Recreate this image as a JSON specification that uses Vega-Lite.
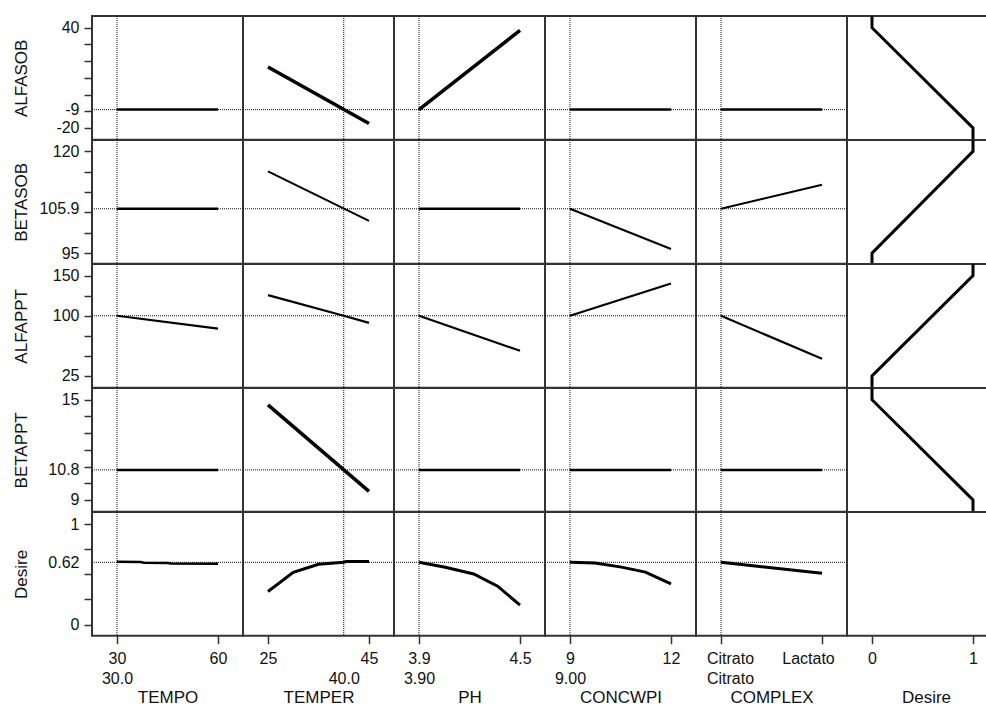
{
"$schema": "https://vega.github.io/schema/vega-lite/v6.json",
"background": "white",
"padding": {"left": 11, "top": 10, "right": 0, "bottom": 0},
"columns": 6,
"bounds": "flush",
"align": "each",
"spacing": 0,
"datasets": {
 "current": [
  {"variable": "TEMPO", "value": 30},
  {"variable": "TEMPER", "value": 40},
  {"variable": "PH", "value": 3.9},
  {"variable": "CONCWPI", "value": 9},
  {"variable": "COMPLEX", "level": "Citrato"},
  {"variable": "ALFASOB", "value": -9},
  {"variable": "BETASOB", "value": 105.9},
  {"variable": "ALFAPPT", "value": 100},
  {"variable": "BETAPPT", "value": 10.8},
  {"variable": "Desire", "value": 0.62}
 ],
 "profiles": [
  {"response": "ALFASOB", "factor": "TEMPO", "x": 30, "y": -9},
  {"response": "ALFASOB", "factor": "TEMPO", "x": 60, "y": -9},
  {"response": "ALFASOB", "factor": "TEMPER", "x": 25, "y": 16.5},
  {"response": "ALFASOB", "factor": "TEMPER", "x": 45, "y": -17.3},
  {"response": "ALFASOB", "factor": "PH", "x": 3.9, "y": -9},
  {"response": "ALFASOB", "factor": "PH", "x": 4.5, "y": 38.4},
  {"response": "ALFASOB", "factor": "CONCWPI", "x": 9, "y": -9},
  {"response": "ALFASOB", "factor": "CONCWPI", "x": 12, "y": -9},
  {"response": "ALFASOB", "factor": "COMPLEX", "level": "Citrato", "y": -9},
  {"response": "ALFASOB", "factor": "COMPLEX", "level": "Lactato", "y": -9},
  {"response": "BETASOB", "factor": "TEMPO", "x": 30, "y": 105.9},
  {"response": "BETASOB", "factor": "TEMPO", "x": 60, "y": 105.9},
  {"response": "BETASOB", "factor": "TEMPER", "x": 25, "y": 115.1},
  {"response": "BETASOB", "factor": "TEMPER", "x": 45, "y": 102.9},
  {"response": "BETASOB", "factor": "PH", "x": 3.9, "y": 105.9},
  {"response": "BETASOB", "factor": "PH", "x": 4.5, "y": 105.9},
  {"response": "BETASOB", "factor": "CONCWPI", "x": 9, "y": 105.9},
  {"response": "BETASOB", "factor": "CONCWPI", "x": 12, "y": 96.0},
  {"response": "BETASOB", "factor": "COMPLEX", "level": "Citrato", "y": 105.9},
  {"response": "BETASOB", "factor": "COMPLEX", "level": "Lactato", "y": 111.8},
  {"response": "ALFAPPT", "factor": "TEMPO", "x": 30, "y": 100},
  {"response": "ALFAPPT", "factor": "TEMPO", "x": 60, "y": 84.1},
  {"response": "ALFAPPT", "factor": "TEMPER", "x": 25, "y": 125.8},
  {"response": "ALFAPPT", "factor": "TEMPER", "x": 40, "y": 100},
  {"response": "ALFAPPT", "factor": "TEMPER", "x": 45, "y": 91.2},
  {"response": "ALFAPPT", "factor": "PH", "x": 3.9, "y": 100},
  {"response": "ALFAPPT", "factor": "PH", "x": 4.5, "y": 56.4},
  {"response": "ALFAPPT", "factor": "CONCWPI", "x": 9, "y": 100},
  {"response": "ALFAPPT", "factor": "CONCWPI", "x": 12, "y": 140.2},
  {"response": "ALFAPPT", "factor": "COMPLEX", "level": "Citrato", "y": 100},
  {"response": "ALFAPPT", "factor": "COMPLEX", "level": "Lactato", "y": 46.4},
  {"response": "BETAPPT", "factor": "TEMPO", "x": 30, "y": 10.8},
  {"response": "BETAPPT", "factor": "TEMPO", "x": 60, "y": 10.8},
  {"response": "BETAPPT", "factor": "TEMPER", "x": 25, "y": 14.69},
  {"response": "BETAPPT", "factor": "TEMPER", "x": 45, "y": 9.52},
  {"response": "BETAPPT", "factor": "PH", "x": 3.9, "y": 10.8},
  {"response": "BETAPPT", "factor": "PH", "x": 4.5, "y": 10.8},
  {"response": "BETAPPT", "factor": "CONCWPI", "x": 9, "y": 10.8},
  {"response": "BETAPPT", "factor": "CONCWPI", "x": 12, "y": 10.8},
  {"response": "BETAPPT", "factor": "COMPLEX", "level": "Citrato", "y": 10.8},
  {"response": "BETAPPT", "factor": "COMPLEX", "level": "Lactato", "y": 10.8},
  {"response": "Desire", "factor": "TEMPO", "x": 30, "y": 0.625},
  {"response": "Desire", "factor": "TEMPO", "x": 37, "y": 0.622},
  {"response": "Desire", "factor": "TEMPO", "x": 38, "y": 0.615},
  {"response": "Desire", "factor": "TEMPO", "x": 45, "y": 0.613},
  {"response": "Desire", "factor": "TEMPO", "x": 46, "y": 0.607},
  {"response": "Desire", "factor": "TEMPO", "x": 60, "y": 0.606},
  {"response": "Desire", "factor": "TEMPER", "x": 25, "y": 0.33},
  {"response": "Desire", "factor": "TEMPER", "x": 30, "y": 0.52},
  {"response": "Desire", "factor": "TEMPER", "x": 35, "y": 0.6},
  {"response": "Desire", "factor": "TEMPER", "x": 40, "y": 0.62},
  {"response": "Desire", "factor": "TEMPER", "x": 40.5, "y": 0.627},
  {"response": "Desire", "factor": "TEMPER", "x": 45, "y": 0.627},
  {"response": "Desire", "factor": "PH", "x": 3.9, "y": 0.62},
  {"response": "Desire", "factor": "PH", "x": 4.056, "y": 0.571},
  {"response": "Desire", "factor": "PH", "x": 4.225, "y": 0.504},
  {"response": "Desire", "factor": "PH", "x": 4.367, "y": 0.382},
  {"response": "Desire", "factor": "PH", "x": 4.5, "y": 0.195},
  {"response": "Desire", "factor": "CONCWPI", "x": 9, "y": 0.62},
  {"response": "Desire", "factor": "CONCWPI", "x": 9.74, "y": 0.612},
  {"response": "Desire", "factor": "CONCWPI", "x": 10.53, "y": 0.572},
  {"response": "Desire", "factor": "CONCWPI", "x": 11.24, "y": 0.522},
  {"response": "Desire", "factor": "CONCWPI", "x": 12, "y": 0.405},
  {"response": "Desire", "factor": "COMPLEX", "level": "Citrato", "y": 0.62},
  {"response": "Desire", "factor": "COMPLEX", "level": "Lactato", "y": 0.51}
 ],
 "desirability": [
  {"response": "ALFASOB", "seq": 1, "d": 0, "y": 47},
  {"response": "ALFASOB", "seq": 2, "d": 0, "y": 40},
  {"response": "ALFASOB", "seq": 3, "d": 1, "y": -20},
  {"response": "ALFASOB", "seq": 4, "d": 1, "y": -27},
  {"response": "BETASOB", "seq": 1, "d": 1, "y": 122.8},
  {"response": "BETASOB", "seq": 2, "d": 1, "y": 120},
  {"response": "BETASOB", "seq": 3, "d": 0, "y": 95},
  {"response": "BETASOB", "seq": 4, "d": 0, "y": 92.4},
  {"response": "ALFAPPT", "seq": 1, "d": 1, "y": 164.5},
  {"response": "ALFAPPT", "seq": 2, "d": 1, "y": 150},
  {"response": "ALFAPPT", "seq": 3, "d": 0, "y": 25},
  {"response": "ALFAPPT", "seq": 4, "d": 0, "y": 10.4},
  {"response": "BETAPPT", "seq": 1, "d": 0, "y": 15.7},
  {"response": "BETAPPT", "seq": 2, "d": 0, "y": 15},
  {"response": "BETAPPT", "seq": 3, "d": 1, "y": 9},
  {"response": "BETAPPT", "seq": 4, "d": 1, "y": 8.3}
 ]
},
"concat": [
  {"width": 151, "height": 123.7, "layer": [
   {"data": {"name": "current"}, "transform": [{"filter": "datum.variable=='ALFASOB'"}], "mark": "rule", "encoding": {"y": {"field": "value", "type": "quantitative", "scale": {"domain": [-27, 47], "nice": false, "zero": false}, "axis": {"title": "ALFASOB", "tickCount": 50, "values": [40, 30, 20, 10, 0, -9, -10, -20], "labelExpr": "datum.value==40?'40':datum.value==-9?'-9':datum.value==-20?'-20':''", "tickOpacity": {"condition": {"test": "datum.value==-9", "value": 0}, "value": 1}}}}},
   {"data": {"name": "current"}, "transform": [{"filter": "datum.variable=='TEMPO'"}], "mark": "rule", "encoding": {"x": {"field": "value", "type": "quantitative", "scale": {"domain": [22.57, 67.43], "nice": false, "zero": false}, "axis": null}}},
   {"data": {"name": "profiles"}, "transform": [{"filter": "datum.response=='ALFASOB'&&datum.factor=='TEMPO'"}], "mark": "line", "encoding": {"x": {"field": "x", "type": "quantitative", "scale": {"domain": [22.57, 67.43], "nice": false, "zero": false}, "axis": null}, "y": {"field": "y", "type": "quantitative", "scale": {"domain": [-27, 47], "nice": false, "zero": false}}}}
  ]},
  {"width": 151, "height": 123.7, "layer": [
   {"data": {"name": "current"}, "transform": [{"filter": "datum.variable=='ALFASOB'"}], "mark": "rule", "encoding": {"y": {"field": "value", "type": "quantitative", "scale": {"domain": [-27, 47], "nice": false, "zero": false}, "axis": null}}},
   {"data": {"name": "current"}, "transform": [{"filter": "datum.variable=='TEMPER'"}], "mark": "rule", "encoding": {"x": {"field": "value", "type": "quantitative", "scale": {"domain": [20.05, 49.95], "nice": false, "zero": false}, "axis": null}}},
   {"data": {"name": "profiles"}, "transform": [{"filter": "datum.response=='ALFASOB'&&datum.factor=='TEMPER'"}], "mark": {"type": "line", "strokeWidth": 3.5}, "encoding": {"x": {"field": "x", "type": "quantitative", "scale": {"domain": [20.05, 49.95], "nice": false, "zero": false}, "axis": null}, "y": {"field": "y", "type": "quantitative", "scale": {"domain": [-27, 47], "nice": false, "zero": false}, "axis": null}}}
  ]},
  {"width": 151, "height": 123.7, "layer": [
   {"data": {"name": "current"}, "transform": [{"filter": "datum.variable=='ALFASOB'"}], "mark": "rule", "encoding": {"y": {"field": "value", "type": "quantitative", "scale": {"domain": [-27, 47], "nice": false, "zero": false}, "axis": null}}},
   {"data": {"name": "current"}, "transform": [{"filter": "datum.variable=='PH'"}], "mark": "rule", "encoding": {"x": {"field": "value", "type": "quantitative", "scale": {"domain": [3.7515, 4.6485], "nice": false, "zero": false}, "axis": null}}},
   {"data": {"name": "profiles"}, "transform": [{"filter": "datum.response=='ALFASOB'&&datum.factor=='PH'"}], "mark": {"type": "line", "strokeWidth": 3.5}, "encoding": {"x": {"field": "x", "type": "quantitative", "scale": {"domain": [3.7515, 4.6485], "nice": false, "zero": false}, "axis": null}, "y": {"field": "y", "type": "quantitative", "scale": {"domain": [-27, 47], "nice": false, "zero": false}, "axis": null}}}
  ]},
  {"width": 151, "height": 123.7, "layer": [
   {"data": {"name": "current"}, "transform": [{"filter": "datum.variable=='ALFASOB'"}], "mark": "rule", "encoding": {"y": {"field": "value", "type": "quantitative", "scale": {"domain": [-27, 47], "nice": false, "zero": false}, "axis": null}}},
   {"data": {"name": "current"}, "transform": [{"filter": "datum.variable=='CONCWPI'"}], "mark": "rule", "encoding": {"x": {"field": "value", "type": "quantitative", "scale": {"domain": [8.2574, 12.7426], "nice": false, "zero": false}, "axis": null}}},
   {"data": {"name": "profiles"}, "transform": [{"filter": "datum.response=='ALFASOB'&&datum.factor=='CONCWPI'"}], "mark": "line", "encoding": {"x": {"field": "x", "type": "quantitative", "scale": {"domain": [8.2574, 12.7426], "nice": false, "zero": false}, "axis": null}, "y": {"field": "y", "type": "quantitative", "scale": {"domain": [-27, 47], "nice": false, "zero": false}, "axis": null}}}
  ]},
  {"width": 151, "height": 123.7, "layer": [
   {"data": {"name": "current"}, "transform": [{"filter": "datum.variable=='ALFASOB'"}], "mark": "rule", "encoding": {"y": {"field": "value", "type": "quantitative", "scale": {"domain": [-27, 47], "nice": false, "zero": false}, "axis": null}}},
   {"data": {"name": "current"}, "transform": [{"filter": "datum.variable=='COMPLEX'"}], "mark": "rule", "encoding": {"x": {"field": "level", "type": "nominal", "scale": {"type": "point", "domain": ["Citrato", "Lactato"], "padding": 0.2475}, "axis": null}}},
   {"data": {"name": "profiles"}, "transform": [{"filter": "datum.response=='ALFASOB'&&datum.factor=='COMPLEX'"}], "mark": "line", "encoding": {"x": {"field": "level", "type": "nominal", "scale": {"type": "point", "domain": ["Citrato", "Lactato"], "padding": 0.2475}, "axis": null}, "y": {"field": "y", "type": "quantitative", "scale": {"domain": [-27, 47], "nice": false, "zero": false}, "axis": null}}}
  ]},
  {"width": 140, "height": 123.7, "view": {"stroke": null}, "layer": [
   {"data": {"values": [{}]}, "mark": {"type": "rule", "color": "#333", "strokeWidth": 2, "strokeDash": [4, 0]}, "encoding": {"y": {"datum": 47, "type": "quantitative", "scale": {"domain": [-27, 47], "nice": false, "zero": false}, "axis": null}}},
   {"data": {"name": "desirability"}, "transform": [{"filter": "datum.response=='ALFASOB'"}], "mark": {"type": "line", "strokeWidth": 3}, "encoding": {"x": {"field": "d", "type": "quantitative", "scale": {"domain": [-0.2475, 1.1386], "nice": false, "zero": false}, "axis": null}, "y": {"field": "y", "type": "quantitative", "scale": {"domain": [-27, 47], "nice": false, "zero": false}, "axis": null}, "order": {"field": "seq"}}}
  ]},
  {"width": 151, "height": 123.7, "layer": [
   {"data": {"name": "current"}, "transform": [{"filter": "datum.variable=='BETASOB'"}], "mark": "rule", "encoding": {"y": {"field": "value", "type": "quantitative", "scale": {"domain": [92.4, 122.8], "nice": false, "zero": false}, "axis": {"title": "BETASOB", "tickCount": 50, "values": [120, 115, 110, 105.9, 105, 100, 95], "labelExpr": "datum.value==120?'120':datum.value==105.9?'105.9':datum.value==95?'95':''", "tickOpacity": {"condition": {"test": "datum.value==105.9", "value": 0}, "value": 1}}}}},
   {"data": {"name": "current"}, "transform": [{"filter": "datum.variable=='TEMPO'"}], "mark": "rule", "encoding": {"x": {"field": "value", "type": "quantitative", "scale": {"domain": [22.57, 67.43], "nice": false, "zero": false}, "axis": null}}},
   {"data": {"name": "profiles"}, "transform": [{"filter": "datum.response=='BETASOB'&&datum.factor=='TEMPO'"}], "mark": "line", "encoding": {"x": {"field": "x", "type": "quantitative", "scale": {"domain": [22.57, 67.43], "nice": false, "zero": false}, "axis": null}, "y": {"field": "y", "type": "quantitative", "scale": {"domain": [92.4, 122.8], "nice": false, "zero": false}}}}
  ]},
  {"width": 151, "height": 123.7, "layer": [
   {"data": {"name": "current"}, "transform": [{"filter": "datum.variable=='BETASOB'"}], "mark": "rule", "encoding": {"y": {"field": "value", "type": "quantitative", "scale": {"domain": [92.4, 122.8], "nice": false, "zero": false}, "axis": null}}},
   {"data": {"name": "current"}, "transform": [{"filter": "datum.variable=='TEMPER'"}], "mark": "rule", "encoding": {"x": {"field": "value", "type": "quantitative", "scale": {"domain": [20.05, 49.95], "nice": false, "zero": false}, "axis": null}}},
   {"data": {"name": "profiles"}, "transform": [{"filter": "datum.response=='BETASOB'&&datum.factor=='TEMPER'"}], "mark": {"type": "line", "strokeWidth": 2}, "encoding": {"x": {"field": "x", "type": "quantitative", "scale": {"domain": [20.05, 49.95], "nice": false, "zero": false}, "axis": null}, "y": {"field": "y", "type": "quantitative", "scale": {"domain": [92.4, 122.8], "nice": false, "zero": false}, "axis": null}}}
  ]},
  {"width": 151, "height": 123.7, "layer": [
   {"data": {"name": "current"}, "transform": [{"filter": "datum.variable=='BETASOB'"}], "mark": "rule", "encoding": {"y": {"field": "value", "type": "quantitative", "scale": {"domain": [92.4, 122.8], "nice": false, "zero": false}, "axis": null}}},
   {"data": {"name": "current"}, "transform": [{"filter": "datum.variable=='PH'"}], "mark": "rule", "encoding": {"x": {"field": "value", "type": "quantitative", "scale": {"domain": [3.7515, 4.6485], "nice": false, "zero": false}, "axis": null}}},
   {"data": {"name": "profiles"}, "transform": [{"filter": "datum.response=='BETASOB'&&datum.factor=='PH'"}], "mark": "line", "encoding": {"x": {"field": "x", "type": "quantitative", "scale": {"domain": [3.7515, 4.6485], "nice": false, "zero": false}, "axis": null}, "y": {"field": "y", "type": "quantitative", "scale": {"domain": [92.4, 122.8], "nice": false, "zero": false}, "axis": null}}}
  ]},
  {"width": 151, "height": 123.7, "layer": [
   {"data": {"name": "current"}, "transform": [{"filter": "datum.variable=='BETASOB'"}], "mark": "rule", "encoding": {"y": {"field": "value", "type": "quantitative", "scale": {"domain": [92.4, 122.8], "nice": false, "zero": false}, "axis": null}}},
   {"data": {"name": "current"}, "transform": [{"filter": "datum.variable=='CONCWPI'"}], "mark": "rule", "encoding": {"x": {"field": "value", "type": "quantitative", "scale": {"domain": [8.2574, 12.7426], "nice": false, "zero": false}, "axis": null}}},
   {"data": {"name": "profiles"}, "transform": [{"filter": "datum.response=='BETASOB'&&datum.factor=='CONCWPI'"}], "mark": {"type": "line", "strokeWidth": 2}, "encoding": {"x": {"field": "x", "type": "quantitative", "scale": {"domain": [8.2574, 12.7426], "nice": false, "zero": false}, "axis": null}, "y": {"field": "y", "type": "quantitative", "scale": {"domain": [92.4, 122.8], "nice": false, "zero": false}, "axis": null}}}
  ]},
  {"width": 151, "height": 123.7, "layer": [
   {"data": {"name": "current"}, "transform": [{"filter": "datum.variable=='BETASOB'"}], "mark": "rule", "encoding": {"y": {"field": "value", "type": "quantitative", "scale": {"domain": [92.4, 122.8], "nice": false, "zero": false}, "axis": null}}},
   {"data": {"name": "current"}, "transform": [{"filter": "datum.variable=='COMPLEX'"}], "mark": "rule", "encoding": {"x": {"field": "level", "type": "nominal", "scale": {"type": "point", "domain": ["Citrato", "Lactato"], "padding": 0.2475}, "axis": null}}},
   {"data": {"name": "profiles"}, "transform": [{"filter": "datum.response=='BETASOB'&&datum.factor=='COMPLEX'"}], "mark": {"type": "line", "strokeWidth": 2}, "encoding": {"x": {"field": "level", "type": "nominal", "scale": {"type": "point", "domain": ["Citrato", "Lactato"], "padding": 0.2475}, "axis": null}, "y": {"field": "y", "type": "quantitative", "scale": {"domain": [92.4, 122.8], "nice": false, "zero": false}, "axis": null}}}
  ]},
  {"width": 140, "height": 123.7, "view": {"stroke": null}, "layer": [
   {"data": {"values": [{}]}, "mark": {"type": "rule", "color": "#333", "strokeWidth": 2, "strokeDash": [4, 0]}, "encoding": {"y": {"datum": 122.8, "type": "quantitative", "scale": {"domain": [92.4, 122.8], "nice": false, "zero": false}, "axis": null}}},
   {"data": {"name": "desirability"}, "transform": [{"filter": "datum.response=='BETASOB'"}], "mark": {"type": "line", "strokeWidth": 3}, "encoding": {"x": {"field": "d", "type": "quantitative", "scale": {"domain": [-0.2475, 1.1386], "nice": false, "zero": false}, "axis": null}, "y": {"field": "y", "type": "quantitative", "scale": {"domain": [92.4, 122.8], "nice": false, "zero": false}, "axis": null}, "order": {"field": "seq"}}}
  ]},
  {"width": 151, "height": 123.7, "layer": [
   {"data": {"name": "current"}, "transform": [{"filter": "datum.variable=='ALFAPPT'"}], "mark": "rule", "encoding": {"y": {"field": "value", "type": "quantitative", "scale": {"domain": [10.4, 164.5], "nice": false, "zero": false}, "axis": {"title": "ALFAPPT", "tickCount": 50, "values": [150, 125, 100, 75, 50, 25], "labelExpr": "datum.value==150?'150':datum.value==100?'100':datum.value==25?'25':''"}}}},
   {"data": {"name": "current"}, "transform": [{"filter": "datum.variable=='TEMPO'"}], "mark": "rule", "encoding": {"x": {"field": "value", "type": "quantitative", "scale": {"domain": [22.57, 67.43], "nice": false, "zero": false}, "axis": null}}},
   {"data": {"name": "profiles"}, "transform": [{"filter": "datum.response=='ALFAPPT'&&datum.factor=='TEMPO'"}], "mark": {"type": "line", "strokeWidth": 2.2}, "encoding": {"x": {"field": "x", "type": "quantitative", "scale": {"domain": [22.57, 67.43], "nice": false, "zero": false}, "axis": null}, "y": {"field": "y", "type": "quantitative", "scale": {"domain": [10.4, 164.5], "nice": false, "zero": false}}}}
  ]},
  {"width": 151, "height": 123.7, "layer": [
   {"data": {"name": "current"}, "transform": [{"filter": "datum.variable=='ALFAPPT'"}], "mark": "rule", "encoding": {"y": {"field": "value", "type": "quantitative", "scale": {"domain": [10.4, 164.5], "nice": false, "zero": false}, "axis": null}}},
   {"data": {"name": "current"}, "transform": [{"filter": "datum.variable=='TEMPER'"}], "mark": "rule", "encoding": {"x": {"field": "value", "type": "quantitative", "scale": {"domain": [20.05, 49.95], "nice": false, "zero": false}, "axis": null}}},
   {"data": {"name": "profiles"}, "transform": [{"filter": "datum.response=='ALFAPPT'&&datum.factor=='TEMPER'"}], "mark": {"type": "line", "strokeWidth": 2.2}, "encoding": {"x": {"field": "x", "type": "quantitative", "scale": {"domain": [20.05, 49.95], "nice": false, "zero": false}, "axis": null}, "y": {"field": "y", "type": "quantitative", "scale": {"domain": [10.4, 164.5], "nice": false, "zero": false}, "axis": null}}}
  ]},
  {"width": 151, "height": 123.7, "layer": [
   {"data": {"name": "current"}, "transform": [{"filter": "datum.variable=='ALFAPPT'"}], "mark": "rule", "encoding": {"y": {"field": "value", "type": "quantitative", "scale": {"domain": [10.4, 164.5], "nice": false, "zero": false}, "axis": null}}},
   {"data": {"name": "current"}, "transform": [{"filter": "datum.variable=='PH'"}], "mark": "rule", "encoding": {"x": {"field": "value", "type": "quantitative", "scale": {"domain": [3.7515, 4.6485], "nice": false, "zero": false}, "axis": null}}},
   {"data": {"name": "profiles"}, "transform": [{"filter": "datum.response=='ALFAPPT'&&datum.factor=='PH'"}], "mark": {"type": "line", "strokeWidth": 2.2}, "encoding": {"x": {"field": "x", "type": "quantitative", "scale": {"domain": [3.7515, 4.6485], "nice": false, "zero": false}, "axis": null}, "y": {"field": "y", "type": "quantitative", "scale": {"domain": [10.4, 164.5], "nice": false, "zero": false}, "axis": null}}}
  ]},
  {"width": 151, "height": 123.7, "layer": [
   {"data": {"name": "current"}, "transform": [{"filter": "datum.variable=='ALFAPPT'"}], "mark": "rule", "encoding": {"y": {"field": "value", "type": "quantitative", "scale": {"domain": [10.4, 164.5], "nice": false, "zero": false}, "axis": null}}},
   {"data": {"name": "current"}, "transform": [{"filter": "datum.variable=='CONCWPI'"}], "mark": "rule", "encoding": {"x": {"field": "value", "type": "quantitative", "scale": {"domain": [8.2574, 12.7426], "nice": false, "zero": false}, "axis": null}}},
   {"data": {"name": "profiles"}, "transform": [{"filter": "datum.response=='ALFAPPT'&&datum.factor=='CONCWPI'"}], "mark": {"type": "line", "strokeWidth": 2.2}, "encoding": {"x": {"field": "x", "type": "quantitative", "scale": {"domain": [8.2574, 12.7426], "nice": false, "zero": false}, "axis": null}, "y": {"field": "y", "type": "quantitative", "scale": {"domain": [10.4, 164.5], "nice": false, "zero": false}, "axis": null}}}
  ]},
  {"width": 151, "height": 123.7, "layer": [
   {"data": {"name": "current"}, "transform": [{"filter": "datum.variable=='ALFAPPT'"}], "mark": "rule", "encoding": {"y": {"field": "value", "type": "quantitative", "scale": {"domain": [10.4, 164.5], "nice": false, "zero": false}, "axis": null}}},
   {"data": {"name": "current"}, "transform": [{"filter": "datum.variable=='COMPLEX'"}], "mark": "rule", "encoding": {"x": {"field": "level", "type": "nominal", "scale": {"type": "point", "domain": ["Citrato", "Lactato"], "padding": 0.2475}, "axis": null}}},
   {"data": {"name": "profiles"}, "transform": [{"filter": "datum.response=='ALFAPPT'&&datum.factor=='COMPLEX'"}], "mark": {"type": "line", "strokeWidth": 2.2}, "encoding": {"x": {"field": "level", "type": "nominal", "scale": {"type": "point", "domain": ["Citrato", "Lactato"], "padding": 0.2475}, "axis": null}, "y": {"field": "y", "type": "quantitative", "scale": {"domain": [10.4, 164.5], "nice": false, "zero": false}, "axis": null}}}
  ]},
  {"width": 140, "height": 123.7, "view": {"stroke": null}, "layer": [
   {"data": {"values": [{}]}, "mark": {"type": "rule", "color": "#333", "strokeWidth": 2, "strokeDash": [4, 0]}, "encoding": {"y": {"datum": 164.5, "type": "quantitative", "scale": {"domain": [10.4, 164.5], "nice": false, "zero": false}, "axis": null}}},
   {"data": {"name": "desirability"}, "transform": [{"filter": "datum.response=='ALFAPPT'"}], "mark": {"type": "line", "strokeWidth": 3}, "encoding": {"x": {"field": "d", "type": "quantitative", "scale": {"domain": [-0.2475, 1.1386], "nice": false, "zero": false}, "axis": null}, "y": {"field": "y", "type": "quantitative", "scale": {"domain": [10.4, 164.5], "nice": false, "zero": false}, "axis": null}, "order": {"field": "seq"}}}
  ]},
  {"width": 151, "height": 123.7, "layer": [
   {"data": {"name": "current"}, "transform": [{"filter": "datum.variable=='BETAPPT'"}], "mark": "rule", "encoding": {"y": {"field": "value", "type": "quantitative", "scale": {"domain": [8.3, 15.7], "nice": false, "zero": false}, "axis": {"title": "BETAPPT", "tickCount": 50, "values": [15, 14, 13, 12, 11, 10.8, 10, 9], "labelExpr": "datum.value==15?'15':datum.value==10.8?'10.8':datum.value==9?'9':''", "tickOpacity": {"condition": {"test": "datum.value==10.8", "value": 0}, "value": 1}}}}},
   {"data": {"name": "current"}, "transform": [{"filter": "datum.variable=='TEMPO'"}], "mark": "rule", "encoding": {"x": {"field": "value", "type": "quantitative", "scale": {"domain": [22.57, 67.43], "nice": false, "zero": false}, "axis": null}}},
   {"data": {"name": "profiles"}, "transform": [{"filter": "datum.response=='BETAPPT'&&datum.factor=='TEMPO'"}], "mark": "line", "encoding": {"x": {"field": "x", "type": "quantitative", "scale": {"domain": [22.57, 67.43], "nice": false, "zero": false}, "axis": null}, "y": {"field": "y", "type": "quantitative", "scale": {"domain": [8.3, 15.7], "nice": false, "zero": false}}}}
  ]},
  {"width": 151, "height": 123.7, "layer": [
   {"data": {"name": "current"}, "transform": [{"filter": "datum.variable=='BETAPPT'"}], "mark": "rule", "encoding": {"y": {"field": "value", "type": "quantitative", "scale": {"domain": [8.3, 15.7], "nice": false, "zero": false}, "axis": null}}},
   {"data": {"name": "current"}, "transform": [{"filter": "datum.variable=='TEMPER'"}], "mark": "rule", "encoding": {"x": {"field": "value", "type": "quantitative", "scale": {"domain": [20.05, 49.95], "nice": false, "zero": false}, "axis": null}}},
   {"data": {"name": "profiles"}, "transform": [{"filter": "datum.response=='BETAPPT'&&datum.factor=='TEMPER'"}], "mark": {"type": "line", "strokeWidth": 3.5}, "encoding": {"x": {"field": "x", "type": "quantitative", "scale": {"domain": [20.05, 49.95], "nice": false, "zero": false}, "axis": null}, "y": {"field": "y", "type": "quantitative", "scale": {"domain": [8.3, 15.7], "nice": false, "zero": false}, "axis": null}}}
  ]},
  {"width": 151, "height": 123.7, "layer": [
   {"data": {"name": "current"}, "transform": [{"filter": "datum.variable=='BETAPPT'"}], "mark": "rule", "encoding": {"y": {"field": "value", "type": "quantitative", "scale": {"domain": [8.3, 15.7], "nice": false, "zero": false}, "axis": null}}},
   {"data": {"name": "current"}, "transform": [{"filter": "datum.variable=='PH'"}], "mark": "rule", "encoding": {"x": {"field": "value", "type": "quantitative", "scale": {"domain": [3.7515, 4.6485], "nice": false, "zero": false}, "axis": null}}},
   {"data": {"name": "profiles"}, "transform": [{"filter": "datum.response=='BETAPPT'&&datum.factor=='PH'"}], "mark": "line", "encoding": {"x": {"field": "x", "type": "quantitative", "scale": {"domain": [3.7515, 4.6485], "nice": false, "zero": false}, "axis": null}, "y": {"field": "y", "type": "quantitative", "scale": {"domain": [8.3, 15.7], "nice": false, "zero": false}, "axis": null}}}
  ]},
  {"width": 151, "height": 123.7, "layer": [
   {"data": {"name": "current"}, "transform": [{"filter": "datum.variable=='BETAPPT'"}], "mark": "rule", "encoding": {"y": {"field": "value", "type": "quantitative", "scale": {"domain": [8.3, 15.7], "nice": false, "zero": false}, "axis": null}}},
   {"data": {"name": "current"}, "transform": [{"filter": "datum.variable=='CONCWPI'"}], "mark": "rule", "encoding": {"x": {"field": "value", "type": "quantitative", "scale": {"domain": [8.2574, 12.7426], "nice": false, "zero": false}, "axis": null}}},
   {"data": {"name": "profiles"}, "transform": [{"filter": "datum.response=='BETAPPT'&&datum.factor=='CONCWPI'"}], "mark": "line", "encoding": {"x": {"field": "x", "type": "quantitative", "scale": {"domain": [8.2574, 12.7426], "nice": false, "zero": false}, "axis": null}, "y": {"field": "y", "type": "quantitative", "scale": {"domain": [8.3, 15.7], "nice": false, "zero": false}, "axis": null}}}
  ]},
  {"width": 151, "height": 123.7, "layer": [
   {"data": {"name": "current"}, "transform": [{"filter": "datum.variable=='BETAPPT'"}], "mark": "rule", "encoding": {"y": {"field": "value", "type": "quantitative", "scale": {"domain": [8.3, 15.7], "nice": false, "zero": false}, "axis": null}}},
   {"data": {"name": "current"}, "transform": [{"filter": "datum.variable=='COMPLEX'"}], "mark": "rule", "encoding": {"x": {"field": "level", "type": "nominal", "scale": {"type": "point", "domain": ["Citrato", "Lactato"], "padding": 0.2475}, "axis": null}}},
   {"data": {"name": "profiles"}, "transform": [{"filter": "datum.response=='BETAPPT'&&datum.factor=='COMPLEX'"}], "mark": "line", "encoding": {"x": {"field": "level", "type": "nominal", "scale": {"type": "point", "domain": ["Citrato", "Lactato"], "padding": 0.2475}, "axis": null}, "y": {"field": "y", "type": "quantitative", "scale": {"domain": [8.3, 15.7], "nice": false, "zero": false}, "axis": null}}}
  ]},
  {"width": 140, "height": 123.7, "view": {"stroke": null}, "layer": [
   {"data": {"values": [{}]}, "mark": {"type": "rule", "color": "#333", "strokeWidth": 2, "strokeDash": [4, 0]}, "encoding": {"y": {"datum": 15.7, "type": "quantitative", "scale": {"domain": [8.3, 15.7], "nice": false, "zero": false}, "axis": null}}},
   {"data": {"name": "desirability"}, "transform": [{"filter": "datum.response=='BETAPPT'"}], "mark": {"type": "line", "strokeWidth": 3}, "encoding": {"x": {"field": "d", "type": "quantitative", "scale": {"domain": [-0.2475, 1.1386], "nice": false, "zero": false}, "axis": null}, "y": {"field": "y", "type": "quantitative", "scale": {"domain": [8.3, 15.7], "nice": false, "zero": false}, "axis": null}, "order": {"field": "seq"}}}
  ]},
  {"width": 151, "height": 123.7, "layer": [
   {"data": {"name": "current"}, "transform": [{"filter": "datum.variable=='Desire'"}], "mark": "rule", "encoding": {"y": {"field": "value", "type": "quantitative", "scale": {"domain": [-0.11, 1.12], "nice": false, "zero": false}, "axis": {"title": "Desire", "tickCount": 50, "values": [1, 0.75, 0.62, 0.5, 0.25, 0], "labelExpr": "datum.value==1?'1':datum.value==0.62?'0.62':datum.value==0?'0':''", "tickOpacity": {"condition": {"test": "datum.value==0.62", "value": 0}, "value": 1}}}}},
   {"data": {"name": "current"}, "transform": [{"filter": "datum.variable=='TEMPO'"}], "mark": "rule", "encoding": {"x": {"field": "value", "type": "quantitative", "scale": {"domain": [22.57, 67.43], "nice": false, "zero": false}, "axis": {"title": "TEMPO", "tickCount": 50, "values": [30, 60], "labelExpr": "datum.value==30?['30','30.0']:'60'"}}}},
   {"data": {"name": "profiles"}, "transform": [{"filter": "datum.response=='Desire'&&datum.factor=='TEMPO'"}], "mark": "line", "encoding": {"x": {"field": "x", "type": "quantitative", "scale": {"domain": [22.57, 67.43], "nice": false, "zero": false}}, "y": {"field": "y", "type": "quantitative", "scale": {"domain": [-0.11, 1.12], "nice": false, "zero": false}}}}
  ]},
  {"width": 151, "height": 123.7, "layer": [
   {"data": {"name": "current"}, "transform": [{"filter": "datum.variable=='Desire'"}], "mark": "rule", "encoding": {"y": {"field": "value", "type": "quantitative", "scale": {"domain": [-0.11, 1.12], "nice": false, "zero": false}, "axis": null}}},
   {"data": {"name": "current"}, "transform": [{"filter": "datum.variable=='TEMPER'"}], "mark": "rule", "encoding": {"x": {"field": "value", "type": "quantitative", "scale": {"domain": [20.05, 49.95], "nice": false, "zero": false}, "axis": {"title": "TEMPER", "tickCount": 50, "values": [25, 40, 45], "labelExpr": "datum.value==25?'25':datum.value==45?'45':['','40.0']", "tickOpacity": {"condition": {"test": "datum.value==40", "value": 0}, "value": 1}}}}},
   {"data": {"name": "profiles"}, "transform": [{"filter": "datum.response=='Desire'&&datum.factor=='TEMPER'"}], "mark": {"type": "line", "strokeWidth": 3}, "encoding": {"x": {"field": "x", "type": "quantitative", "scale": {"domain": [20.05, 49.95], "nice": false, "zero": false}}, "y": {"field": "y", "type": "quantitative", "scale": {"domain": [-0.11, 1.12], "nice": false, "zero": false}, "axis": null}}}
  ]},
  {"width": 151, "height": 123.7, "layer": [
   {"data": {"name": "current"}, "transform": [{"filter": "datum.variable=='Desire'"}], "mark": "rule", "encoding": {"y": {"field": "value", "type": "quantitative", "scale": {"domain": [-0.11, 1.12], "nice": false, "zero": false}, "axis": null}}},
   {"data": {"name": "current"}, "transform": [{"filter": "datum.variable=='PH'"}], "mark": "rule", "encoding": {"x": {"field": "value", "type": "quantitative", "scale": {"domain": [3.7515, 4.6485], "nice": false, "zero": false}, "axis": {"title": "PH", "tickCount": 50, "values": [3.9, 4.5], "labelExpr": "datum.value==3.9?['3.9','3.90']:'4.5'"}}}},
   {"data": {"name": "profiles"}, "transform": [{"filter": "datum.response=='Desire'&&datum.factor=='PH'"}], "mark": {"type": "line", "strokeWidth": 3}, "encoding": {"x": {"field": "x", "type": "quantitative", "scale": {"domain": [3.7515, 4.6485], "nice": false, "zero": false}}, "y": {"field": "y", "type": "quantitative", "scale": {"domain": [-0.11, 1.12], "nice": false, "zero": false}, "axis": null}}}
  ]},
  {"width": 151, "height": 123.7, "layer": [
   {"data": {"name": "current"}, "transform": [{"filter": "datum.variable=='Desire'"}], "mark": "rule", "encoding": {"y": {"field": "value", "type": "quantitative", "scale": {"domain": [-0.11, 1.12], "nice": false, "zero": false}, "axis": null}}},
   {"data": {"name": "current"}, "transform": [{"filter": "datum.variable=='CONCWPI'"}], "mark": "rule", "encoding": {"x": {"field": "value", "type": "quantitative", "scale": {"domain": [8.2574, 12.7426], "nice": false, "zero": false}, "axis": {"title": "CONCWPI", "tickCount": 50, "values": [9, 12], "labelExpr": "datum.value==9?['9','9.00']:'12'"}}}},
   {"data": {"name": "profiles"}, "transform": [{"filter": "datum.response=='Desire'&&datum.factor=='CONCWPI'"}], "mark": {"type": "line", "strokeWidth": 3}, "encoding": {"x": {"field": "x", "type": "quantitative", "scale": {"domain": [8.2574, 12.7426], "nice": false, "zero": false}}, "y": {"field": "y", "type": "quantitative", "scale": {"domain": [-0.11, 1.12], "nice": false, "zero": false}, "axis": null}}}
  ]},
  {"width": 151, "height": 123.7, "layer": [
   {"data": {"name": "current"}, "transform": [{"filter": "datum.variable=='Desire'"}], "mark": "rule", "encoding": {"y": {"field": "value", "type": "quantitative", "scale": {"domain": [-0.11, 1.12], "nice": false, "zero": false}, "axis": null}}},
   {"data": {"name": "current"}, "transform": [{"filter": "datum.variable=='COMPLEX'"}], "mark": "rule", "encoding": {"x": {"field": "level", "type": "nominal", "scale": {"type": "point", "domain": ["Citrato", "Lactato"], "padding": 0.2475}, "axis": {"title": "COMPLEX", "labelExpr": "datum.value=='Citrato'?['Citrato','Citrato']:'Lactato'", "labelOffset": {"condition": {"test": "datum.value=='Citrato'", "value": 9}, "value": -14}}}}},
   {"data": {"name": "profiles"}, "transform": [{"filter": "datum.response=='Desire'&&datum.factor=='COMPLEX'"}], "mark": {"type": "line", "strokeWidth": 3}, "encoding": {"x": {"field": "level", "type": "nominal", "scale": {"type": "point", "domain": ["Citrato", "Lactato"], "padding": 0.2475}}, "y": {"field": "y", "type": "quantitative", "scale": {"domain": [-0.11, 1.12], "nice": false, "zero": false}, "axis": null}}}
  ]},
  {"width": 140, "height": 123.7, "view": {"stroke": null}, "layer": [
   {"data": {"values": [{}]}, "mark": {"type": "rule", "color": "#333", "strokeWidth": 2, "strokeDash": [4, 0]}, "encoding": {"y": {"datum": 1.12, "type": "quantitative", "scale": {"domain": [-0.11, 1.12], "nice": false, "zero": false}, "axis": null}}},
   {"data": {"values": [{}]}, "mark": {"type": "rule", "color": "#333", "strokeWidth": 2, "strokeDash": [4, 0]}, "encoding": {"y": {"datum": -0.11, "type": "quantitative", "scale": {"domain": [-0.11, 1.12], "nice": false, "zero": false}, "axis": null}}},
   {"data": {"name": "desirability"}, "transform": [{"filter": "datum.response=='Desire'"}], "mark": {"type": "line", "strokeWidth": 3}, "encoding": {"x": {"field": "d", "type": "quantitative", "scale": {"domain": [-0.2475, 1.1386], "nice": false, "zero": false}, "axis": {"title": "Desire", "tickCount": 50, "values": [0, 1], "labelExpr": "datum.value==0?'0':'1'", "titleX": 79}}, "y": {"field": "y", "type": "quantitative", "scale": {"domain": [-0.11, 1.12], "nice": false, "zero": false}, "axis": null}, "order": {"field": "seq"}}}
  ]}
],
"config": {
 "font": "Liberation Sans",
 "view": {"stroke": "#333", "strokeWidth": 2},
 "concat": {"spacing": 0},
 "axis": {"domain": false, "grid": false, "tickCount": 50, "tickColor": "#333", "tickWidth": 1.5, "tickSize": 8, "labelFont": "Liberation Sans", "labelFontSize": 16, "labelColor": "#111", "labelPadding": 5, "labelOverlap": false, "labelFlush": false, "labelBound": false, "titleFont": "Liberation Sans", "titleFontSize": 17, "titleFontWeight": "normal", "titleColor": "#111"},
 "axisX": {"labelPadding": 7, "labelLineHeight": 20, "labelAngle": 0, "titleY": 54, "titleBaseline": "top"},
 "axisY": {"titleX": -62},
 "rule": {"color": "#111", "strokeWidth": 1, "strokeDash": [1, 1]},
 "line": {"color": "#000", "strokeWidth": 2.5}
}
}
